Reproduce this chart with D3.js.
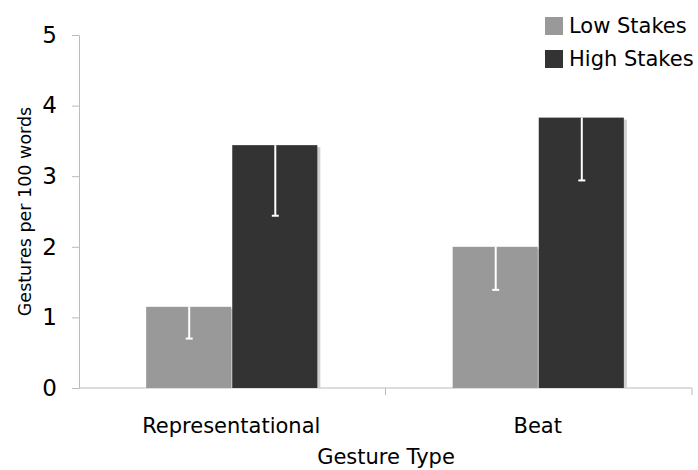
<!DOCTYPE html>
<meta charset="utf-8">
<head>
  <title>Gestures</title>
</head>
<style>
  body { margin: 0; background: #fff; }
  text { font-family: "DejaVu Sans", sans-serif; fill: #000; }
</style>
<body>
  <div id="my_dataviz"></div>
  <script src="https://d3js.org/d3.v7.min.js"></script>
  <script>

  // data
  var categories = ["Representational", "Beat"];
  var seriesNames = ["Low Stakes", "High Stakes"];
  var lowValues = [1.15, 2.00];
  var highValues = [3.44, 3.83];
  var lowErrors = [0.45, 0.61];    // lower whisker length
  var highErrors = [1.00, 0.89];
  var yTicks = [0, 1, 2, 3, 4, 5];
  var colors = ["#999999", "#333333"];

  var margin = {top: 35, right: 6, bottom: 82, left: 79},
      width = 698 - margin.left - margin.right,
      height = 470 - margin.top - margin.bottom;

  var svg = d3.select("#my_dataviz")
    .append("svg")
      .attr("width", 698)
      .attr("height", 470)
    .append("g")
      .attr("transform", "translate(" + margin.left + "," + margin.top + ")");

  var x = d3.scaleBand()
    .domain(categories)
    .range([0, width]);

  var xSub = d3.scaleBand()
    .domain(seriesNames)
    .range([0, x.bandwidth()])
    .paddingOuter(0.78)
    .paddingInner(0.0);

  var y = d3.scaleLinear()
    .domain([0, 5])
    .range([height, 0]);

  // y axis
  var yAxis = svg.append("g")
    .call(d3.axisLeft(y).tickValues(yTicks).tickFormat(d3.format("d"))
      .tickSize(7).tickPadding(15).tickSizeOuter(0));
  yAxis.select(".domain").attr("stroke", "#bbb");
  yAxis.selectAll(".tick line").attr("stroke", "#bbb");
  yAxis.selectAll(".tick text").style("font-size", "23px").style("font-family", "'DejaVu Sans', sans-serif");

  // x axis with separator ticks at band edges
  var xAxisG = svg.append("g")
    .attr("transform", "translate(0," + height + ")");
  xAxisG.append("line")
    .attr("x1", 0).attr("x2", width)
    .attr("stroke", "#bbb");
  xAxisG.selectAll(".sep")
    .data(categories.slice(1).concat(["end"]))
    .enter().append("line")
      .attr("x1", function(d) { return d === "end" ? width : x(d); })
      .attr("x2", function(d) { return d === "end" ? width : x(d); })
      .attr("y1", 0).attr("y2", 7)
      .attr("stroke", "#bbb");
  xAxisG.selectAll(".cat")
    .data(categories)
    .enter().append("text")
      .attr("x", function(d) { return x(d) + x.bandwidth() / 2 - 1; })
      .attr("y", 45)
      .attr("text-anchor", "middle")
      .style("font-size", "21px")
      .text(function(d) { return d; });

  // bars
  var rows = categories.map(function(c, i) {
    return [
      {cat: c, key: seriesNames[0], value: lowValues[i], err: lowErrors[i], color: colors[0]},
      {cat: c, key: seriesNames[1], value: highValues[i], err: highErrors[i], color: colors[1]}
    ];
  });

  var groups = svg.append("g").selectAll("g")
    .data(rows)
    .enter().append("g")
      .attr("transform", function(d) { return "translate(" + x(d[0].cat) + ",0)"; });

  // faint shadow on right side
  groups.selectAll("rect.shadow")
    .data(function(d) { return d; })
    .enter().append("rect")
      .attr("class", "shadow")
      .attr("x", function(d) { return xSub(d.key) + 2; })
      .attr("y", function(d) { return y(d.value) + 2; })
      .attr("width", xSub.bandwidth())
      .attr("height", function(d) { return height - y(d.value) - 2; })
      .attr("fill", "#d0d0d0");

  groups.selectAll("rect.bar")
    .data(function(d) { return d; })
    .enter().append("rect")
      .attr("class", "bar")
      .attr("x", function(d) { return xSub(d.key); })
      .attr("y", function(d) { return y(d.value); })
      .attr("width", xSub.bandwidth() - 1)
      .attr("height", function(d) { return height - y(d.value); })
      .attr("fill", function(d) { return d.color; });

  // error bars (white, downward)
  groups.selectAll("line.err")
    .data(function(d) { return d; })
    .enter().append("line")
      .attr("class", "err")
      .attr("x1", function(d) { return xSub(d.key) + xSub.bandwidth() / 2; })
      .attr("x2", function(d) { return xSub(d.key) + xSub.bandwidth() / 2; })
      .attr("y1", function(d) { return y(d.value); })
      .attr("y2", function(d) { return y(d.value - d.err); })
      .attr("stroke", "#fff")
      .attr("stroke-width", 2);

  groups.selectAll("line.cap")
    .data(function(d) { return d; })
    .enter().append("line")
      .attr("class", "cap")
      .attr("x1", function(d) { return xSub(d.key) + xSub.bandwidth() / 2 - 3.5; })
      .attr("x2", function(d) { return xSub(d.key) + xSub.bandwidth() / 2 + 3.5; })
      .attr("y1", function(d) { return y(d.value - d.err); })
      .attr("y2", function(d) { return y(d.value - d.err); })
      .attr("stroke", "#fff")
      .attr("stroke-width", 2);

  // axis titles
  svg.append("text")
    .attr("transform", "rotate(-90)")
    .attr("x", -height / 2)
    .attr("y", -48)
    .attr("text-anchor", "middle")
    .style("font-size", "17.5px")
    .text("Gestures per 100 words");

  svg.append("text")
    .attr("x", 386 - margin.left)
    .attr("y", height + 76)
    .attr("text-anchor", "middle")
    .style("font-size", "21px")
    .text("Gesture Type");

  // legend
  var legend = svg.append("g")
    .attr("transform", "translate(" + (545 - margin.left) + "," + (17 - margin.top) + ")");
  var li = legend.selectAll("g")
    .data(seriesNames)
    .enter().append("g")
      .attr("transform", function(d, i) { return "translate(0," + (i * 33) + ")"; });
  li.append("rect")
    .attr("width", 18).attr("height", 18)
    .attr("fill", function(d, i) { return colors[i]; });
  li.append("text")
    .attr("x", 24)
    .attr("y", 16)
    .style("font-size", "21px")
    .text(function(d) { return d; });

  </script>
</body>
</html>
